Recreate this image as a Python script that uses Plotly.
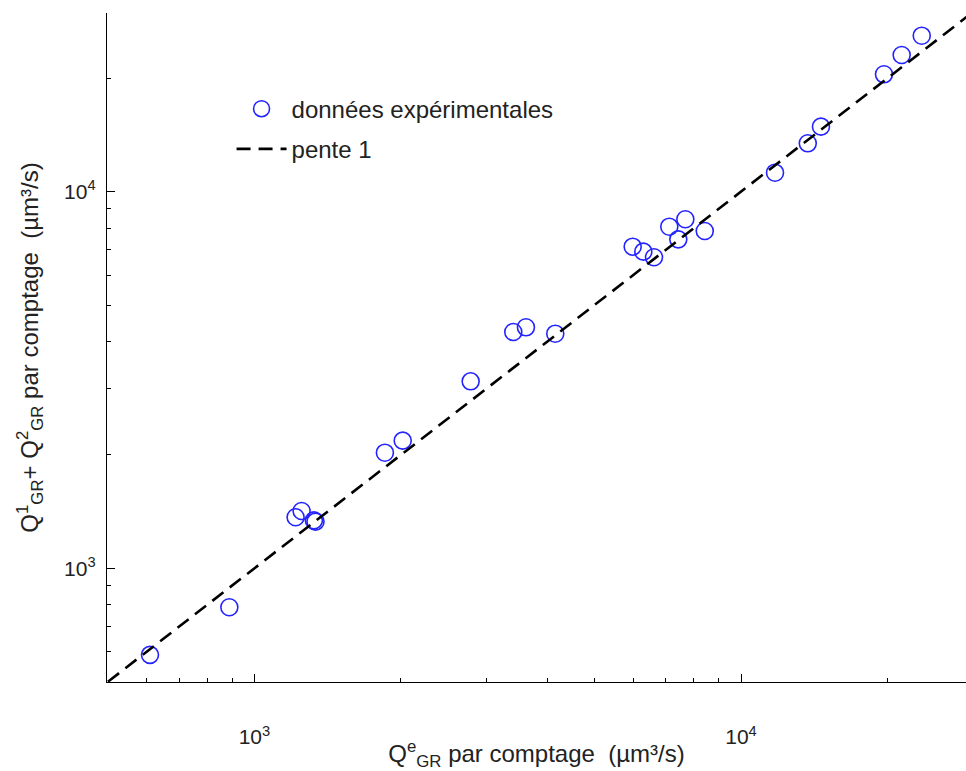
import plotly.graph_objects as go
import math

# experimental data (µm³/s)
q_e = [610, 888, 1215, 1250, 1325, 1335, 1854, 2017, 2782, 3404, 3614, 4152,
       5989, 6298, 6625, 7122, 7432, 7684, 8423, 11746, 13715, 14600, 19672,
       21390, 23520]
q_sum = [589, 788, 1366, 1419, 1340, 1330, 2027, 2182, 3136, 4240, 4363, 4196,
         7142, 6928, 6694, 8070, 7469, 8444, 7861, 11226, 13436, 14874, 20487,
         23050, 25940]

# slope-1 reference line
line_x = [500, 30000]
line_y = [500, 30000]

major_vals = [1000, 10000]
major_text = ["10<sup>3</sup>", "10<sup>4</sup>"]
minor_vals = [m * 10 ** d for d in (2, 3, 4) for m in range(2, 10)]

FONT = "Liberation Sans, Arial, sans-serif"
TXT = "#222222"

fig = go.Figure()
fig.add_trace(go.Scatter(
    x=q_e, y=q_sum, mode="markers", name="données expérimentales",
    legendgroup="a",
    marker=dict(symbol="circle-open", size=17, color="#2323ff",
                line=dict(width=1.6, color="#2323ff")),
))
fig.add_trace(go.Scatter(
    x=line_x, y=line_y, mode="lines", name="pente 1", legendgroup="b",
    line=dict(color="black", width=2.6, dash="14px,8px"),
))

axis_common = dict(
    type="log", showgrid=False, zeroline=False,
    showline=True, linecolor="black", linewidth=1.3,
    ticks="inside", ticklen=8, tickwidth=1, tickcolor="black",
    tickmode="array", tickvals=major_vals, ticktext=major_text,
    tickfont=dict(family=FONT, size=21, color=TXT),
    minor=dict(ticks="inside", ticklen=4, tickwidth=1, tickcolor="black",
               tickmode="array", tickvals=minor_vals, showgrid=False),
)

fig.update_layout(
    width=966, height=771,
    margin=dict(l=107, r=0, t=13, b=89),
    paper_bgcolor="white", plot_bgcolor="white",
    font=dict(family=FONT, color=TXT),
    xaxis=dict(
        **axis_common,
        range=[math.log10(497.7), math.log10(29000)],
        ticklabelstandoff=36,
        title=dict(text="Q<sup>e</sup><sub>GR</sub> par comptage  (µm³/s)",
                   font=dict(family=FONT, size=24, color=TXT), standoff=0),
    ),
    yaxis=dict(
        **axis_common,
        range=[math.log10(499), math.log10(29800)],
        ticklabelstandoff=6,
        title=dict(text="Q<sup>1</sup><sub>GR</sub>+ Q<sup>2</sup><sub>GR</sub> par comptage  (µm³/s)",
                   font=dict(family=FONT, size=24, color=TXT), standoff=18),
    ),
    showlegend=True,
    legend=dict(
        x=0.145, y=0.89, xanchor="left", yanchor="top",
        bgcolor="rgba(0,0,0,0)", borderwidth=0,
        font=dict(family=FONT, size=24, color=TXT),
        traceorder="grouped", tracegroupgap=6, itemwidth=50,
    ),
)

fig.write_html("out.html", config={"displayModeBar": False},
               post_script="document.body.style.margin='0';document.body.style.overflow='hidden';")
